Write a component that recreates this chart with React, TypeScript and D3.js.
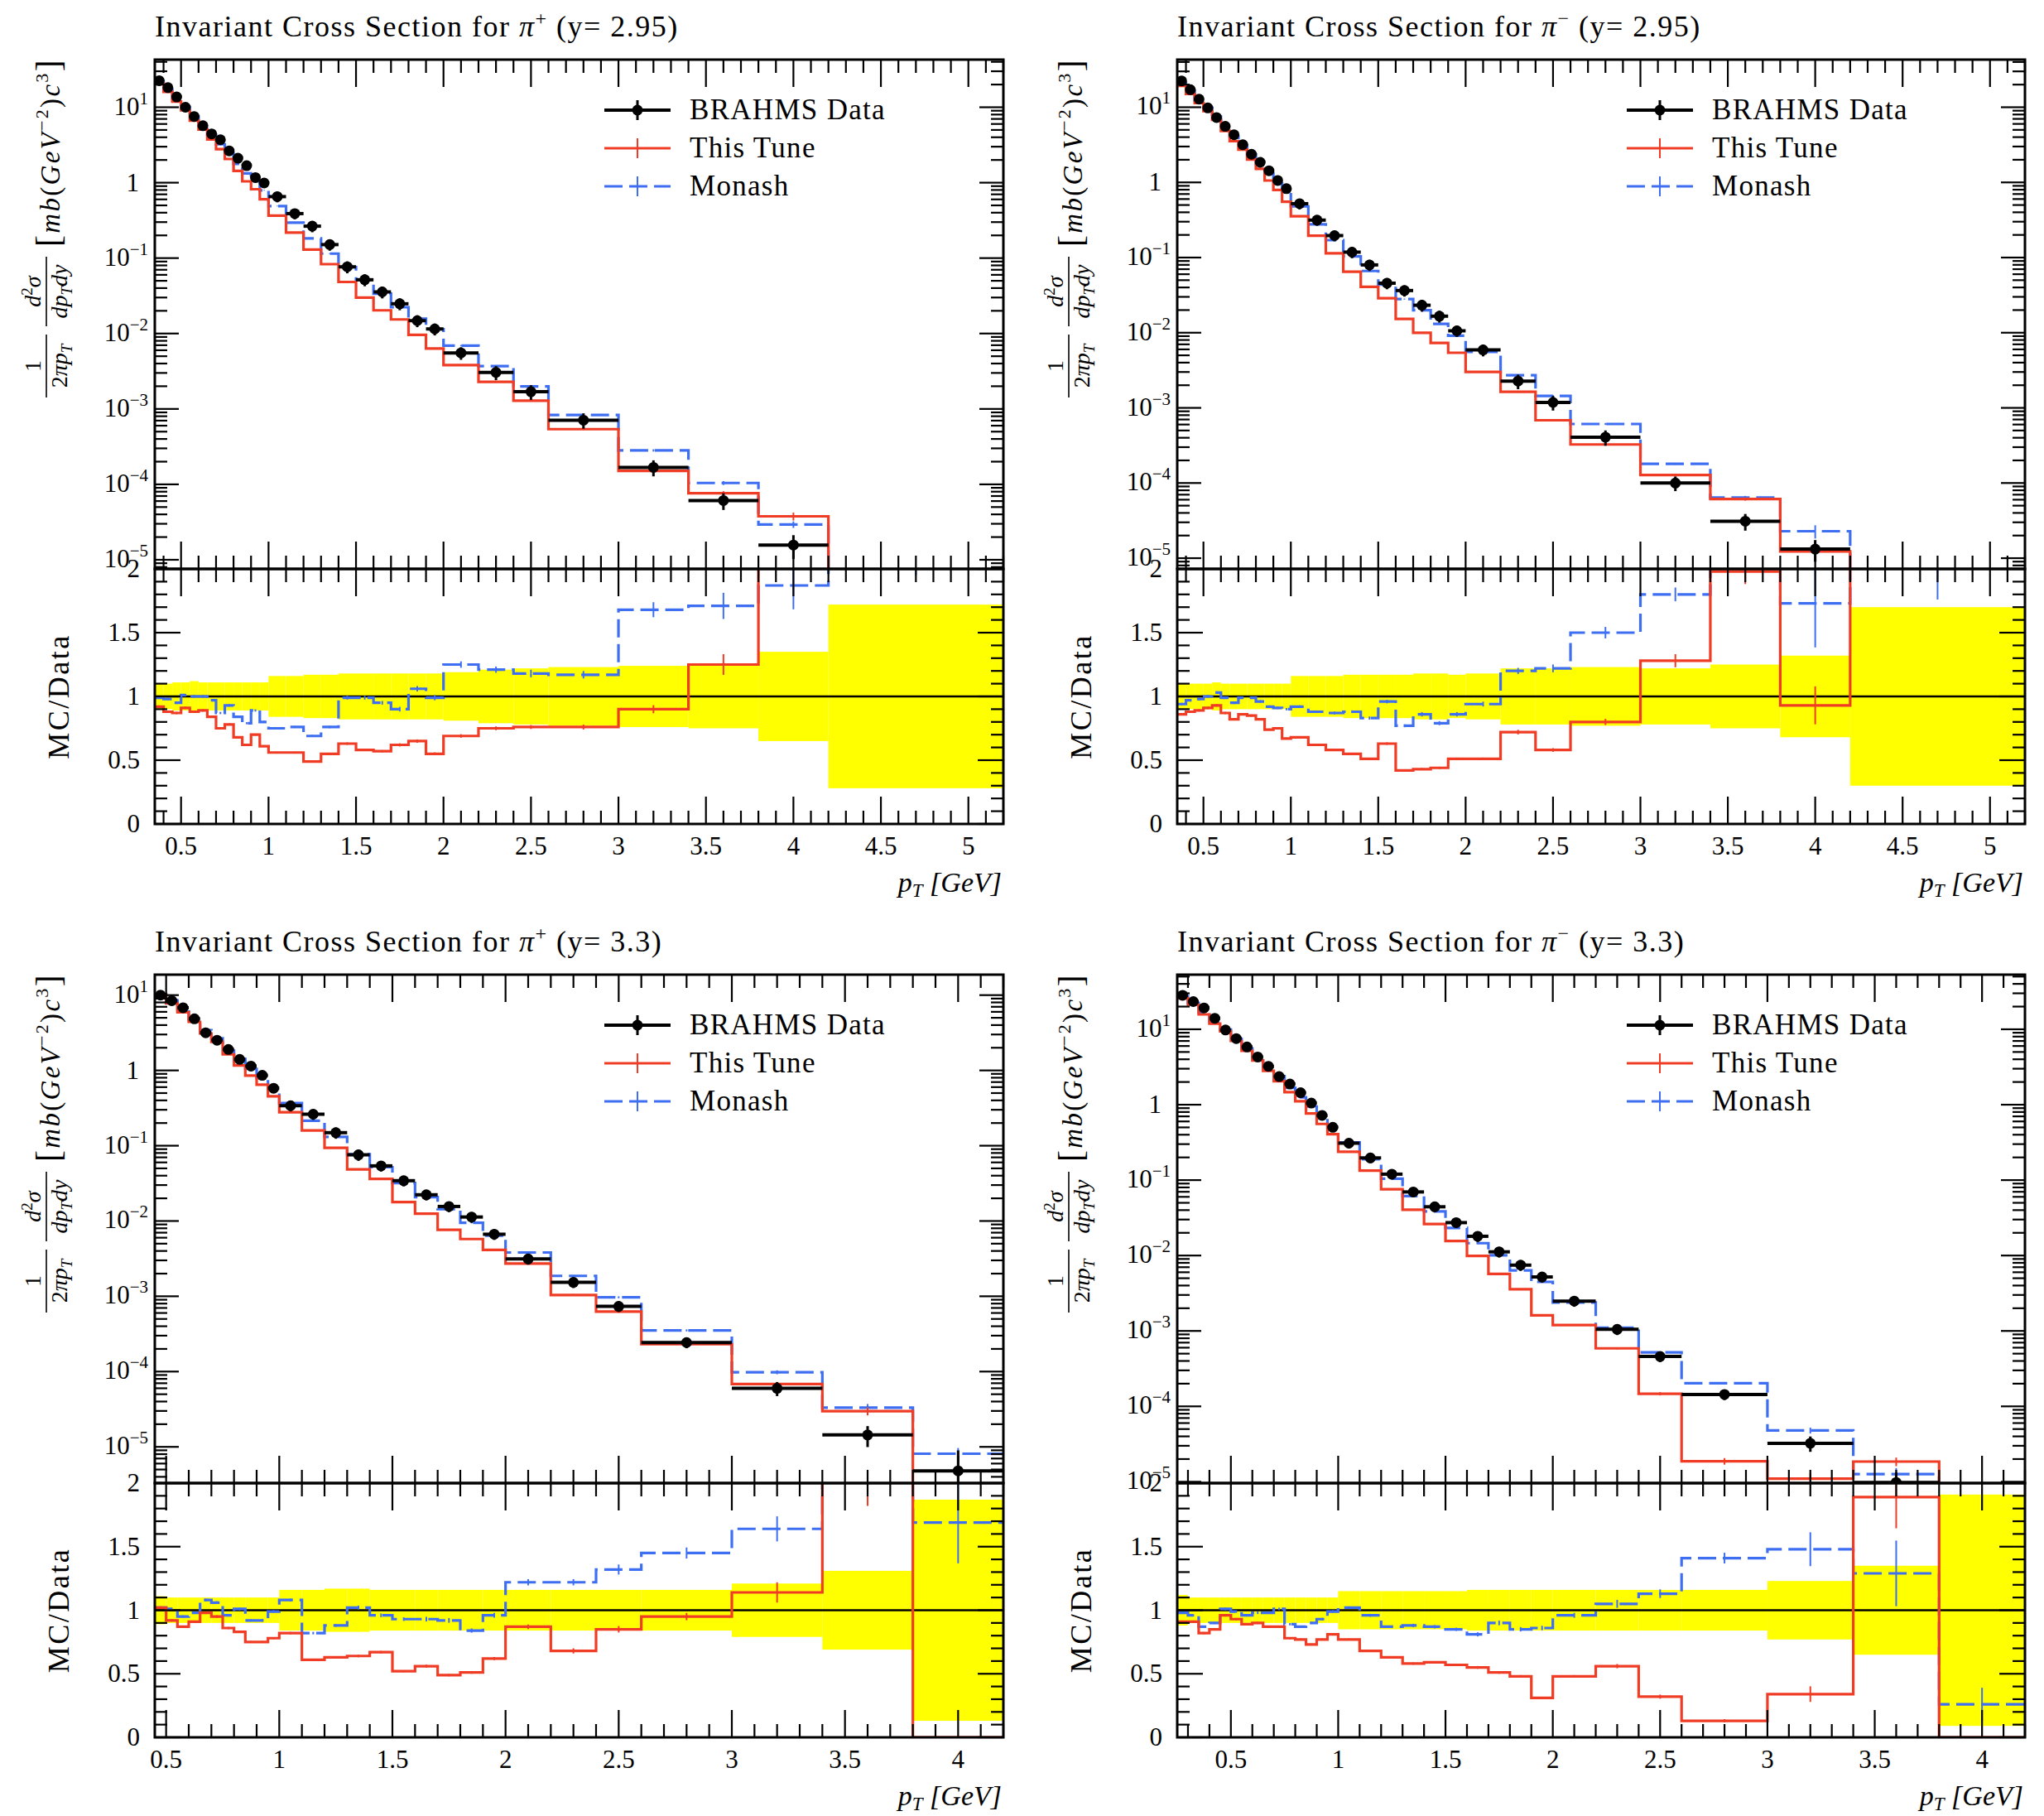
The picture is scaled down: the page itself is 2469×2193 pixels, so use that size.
import React, { useEffect, useRef } from 'react';
import * as d3 from 'd3';

const W = 2469;
const H = 2193;
const FONT = '"Liberation Serif", "Times New Roman", serif';
const RED = '#f03c24';
const BLUE = '#3e6ff2';
const YELLOW = '#ffff00';

// ---- bin edges (GeV) ----
const EDGES_Y295 = [0.35, 0.4, 0.45, 0.5, 0.55, 0.6, 0.65, 0.7, 0.75, 0.8, 0.85, 0.9, 0.95, 1.0,
  1.1, 1.2, 1.3, 1.4, 1.5, 1.6, 1.7, 1.8, 1.9, 2.0, 2.2, 2.4, 2.6, 3.0, 3.4, 3.8, 4.2, 5.2];
const EDGES_PIP_Y33 = [0.45, 0.5, 0.55, 0.6, 0.65, 0.7, 0.75, 0.8, 0.85, 0.9, 0.95, 1.0,
  1.1, 1.2, 1.3, 1.4, 1.5, 1.6, 1.7, 1.8, 1.9, 2.0, 2.2, 2.4, 2.6, 3.0, 3.4, 3.8, 4.2];
const EDGES_PIM_Y33 = [0.25, 0.3, 0.35, 0.4, 0.45, 0.5, 0.55, 0.6, 0.65, 0.7, 0.75, 0.8, 0.85, 0.9, 0.95, 1.0,
  1.1, 1.2, 1.3, 1.4, 1.5, 1.6, 1.7, 1.8, 1.9, 2.0, 2.2, 2.4, 2.6, 3.0, 3.4, 3.8, 4.2];

// ---- pi+ y=2.95 ----
const PIP295_DATA = [22.5, 18.2, 13.7, 10.0, 7.55, 5.69, 4.44, 3.71, 2.64, 2.11, 1.68, 1.17, 0.99,
  0.653, 0.389, 0.265, 0.151, 0.0766, 0.0516, 0.0356, 0.0248, 0.0148, 0.0115,
  0.00553, 0.00305, 0.00169, 7.1e-4, 1.68e-4, 6.1e-5, 1.57e-5, 2.0e-6];
const PIP295_DATA_ERR = [0.10, 0.10, 0.11, 0.11, 0.12, 0.11, 0.11, 0.11, 0.11, 0.11, 0.11, 0.11, 0.11,
  0.16, 0.16, 0.17, 0.17, 0.18, 0.18, 0.18, 0.18, 0.18, 0.18,
  0.19, 0.21, 0.22, 0.23, 0.24, 0.25, 0.35, 0.72];
const PIP295_TUNE = [0.92, 0.88, 0.87, 0.91, 0.88, 0.89, 0.84, 0.75, 0.78, 0.68, 0.62, 0.70, 0.61,
  0.56, 0.56, 0.49, 0.55, 0.63, 0.58, 0.57, 0.62, 0.65, 0.55,
  0.69, 0.75, 0.76, 0.76, 0.90, 1.25, 2.40, 3.0];
const PIP295_TUNE_ERR = [0.01, 0.01, 0.01, 0.01, 0.01, 0.01, 0.01, 0.01, 0.01, 0.01, 0.01, 0.01, 0.01,
  0.01, 0.01, 0.012, 0.012, 0.015, 0.015, 0.015, 0.02, 0.02, 0.02,
  0.02, 0.02, 0.02, 0.025, 0.035, 0.065, 0.12, 0.25];
const PIP295_MONASH = [0.99, 0.98, 0.95, 1.01, 1.00, 1.00, 0.97, 0.87, 0.93, 0.84, 0.79, 0.89, 0.80,
  0.75, 0.76, 0.69, 0.76, 0.99, 0.99, 0.95, 0.90, 1.06, 0.99,
  1.25, 1.21, 1.18, 1.17, 1.68, 1.71, 1.87, 2.6];
const PIP295_MONASH_ERR = [0.01, 0.01, 0.01, 0.01, 0.01, 0.01, 0.01, 0.01, 0.01, 0.01, 0.01, 0.01, 0.01,
  0.01, 0.01, 0.012, 0.012, 0.015, 0.015, 0.015, 0.02, 0.02, 0.02,
  0.02, 0.02, 0.025, 0.025, 0.035, 0.06, 0.10, 0.25];

// ---- pi- y=2.95 ----
const PIM295_DATA = [22.4, 17.1, 12.8, 9.78, 7.3, 5.57, 4.31, 3.18, 2.37, 1.85, 1.43, 1.06, 0.826,
  0.521, 0.315, 0.196, 0.118, 0.0798, 0.0456, 0.0364, 0.0232, 0.0166, 0.0106,
  0.0059, 0.00227, 0.00118, 4.07e-4, 1.0e-4, 3.1e-5, 1.32e-5, 2.0e-6];
const PIM295_DATA_ERR = [0.10, 0.10, 0.10, 0.10, 0.11, 0.10, 0.10, 0.10, 0.10, 0.10, 0.10, 0.10, 0.10,
  0.16, 0.16, 0.16, 0.17, 0.17, 0.17, 0.17, 0.18, 0.18, 0.17,
  0.18, 0.22, 0.22, 0.23, 0.22, 0.25, 0.32, 0.70];
const PIM295_TUNE = [0.86, 0.88, 0.89, 0.91, 0.93, 0.87, 0.82, 0.86, 0.85, 0.82, 0.74, 0.75, 0.67,
  0.68, 0.62, 0.58, 0.55, 0.51, 0.63, 0.42, 0.43, 0.44, 0.51,
  0.51, 0.72, 0.58, 0.80, 1.28, 1.98, 0.93, 3.0];
const PIM295_TUNE_ERR = [0.01, 0.01, 0.01, 0.01, 0.01, 0.01, 0.01, 0.01, 0.01, 0.01, 0.01, 0.01, 0.01,
  0.01, 0.01, 0.012, 0.012, 0.015, 0.015, 0.015, 0.02, 0.02, 0.02,
  0.02, 0.025, 0.025, 0.03, 0.04, 0.05, 0.16, 0.25];
const PIM295_MONASH = [0.94, 0.97, 0.98, 1.00, 1.03, 0.99, 0.95, 0.99, 0.99, 0.96, 0.92, 0.91, 0.90,
  0.92, 0.88, 0.87, 0.88, 0.83, 0.96, 0.77, 0.86, 0.79, 0.86,
  0.94, 1.20, 1.22, 1.50, 1.80, 2.07, 1.73, 2.2];
const PIM295_MONASH_ERR = [0.01, 0.01, 0.01, 0.01, 0.01, 0.01, 0.01, 0.01, 0.01, 0.01, 0.01, 0.01, 0.01,
  0.01, 0.01, 0.012, 0.012, 0.015, 0.015, 0.015, 0.02, 0.02, 0.02,
  0.02, 0.02, 0.025, 0.03, 0.03, 0.05, 0.2, 0.2];

// ---- pi+ y=3.3 ----
const PIP33_DATA = [10.0, 8.44, 6.81, 4.85, 3.16, 2.52, 1.90, 1.40, 1.14, 0.86, 0.58,
  0.34, 0.262, 0.149, 0.0757, 0.054, 0.0343, 0.0223, 0.0156, 0.0113, 0.00667,
  0.00313, 0.00153, 7.35e-4, 2.43e-4, 5.98e-5, 1.44e-5, 4.8e-6];
const PIP33_DATA_ERR = [0.11, 0.10, 0.10, 0.10, 0.10, 0.10, 0.10, 0.10, 0.10, 0.10, 0.10,
  0.16, 0.16, 0.17, 0.17, 0.16, 0.16, 0.16, 0.16, 0.16, 0.16,
  0.16, 0.16, 0.16, 0.16, 0.21, 0.31, 0.87];
const PIP33_TUNE = [1.02, 0.92, 0.87, 0.91, 0.98, 0.95, 0.86, 0.83, 0.75, 0.75, 0.78,
  0.82, 0.61, 0.63, 0.64, 0.67, 0.52, 0.56, 0.49, 0.51, 0.62,
  0.87, 0.68, 0.85, 0.95, 1.14, 2.07, 0];
const PIP33_TUNE_ERR = [0.01, 0.01, 0.01, 0.01, 0.01, 0.01, 0.01, 0.01, 0.01, 0.01, 0.01,
  0.01, 0.012, 0.012, 0.015, 0.015, 0.015, 0.02, 0.02, 0.02, 0.02,
  0.02, 0.03, 0.03, 0.03, 0.07, 0.12, 0];
const PIP33_MONASH = [1.02, 1.01, 0.95, 0.98, 1.08, 1.06, 0.96, 1.01, 0.92, 0.92, 0.99,
  1.08, 0.82, 0.88, 1.02, 0.96, 0.93, 0.93, 0.92, 0.84, 0.96,
  1.22, 1.22, 1.32, 1.45, 1.64, 2.3, 1.69];
const PIP33_MONASH_ERR = [0.01, 0.01, 0.01, 0.01, 0.01, 0.01, 0.01, 0.01, 0.01, 0.01, 0.01,
  0.01, 0.012, 0.012, 0.015, 0.015, 0.015, 0.02, 0.02, 0.02, 0.02,
  0.02, 0.02, 0.03, 0.03, 0.06, 0.12, 0.19];

// ---- pi- y=3.3 ----
const PIM33_DATA = [28.2, 23.3, 19.2, 14.0, 9.78, 7.54, 5.82, 4.29, 3.23, 2.36, 1.88, 1.44, 1.05, 0.722, 0.502,
  0.309, 0.197, 0.120, 0.0697, 0.0443, 0.0273, 0.0180, 0.0112, 0.00746, 0.0052,
  0.00249, 0.00105, 4.59e-4, 1.44e-4, 3.24e-5, 9.8e-6, 4.0e-6];
const PIM33_DATA_ERR = [0.12, 0.10, 0.10, 0.10, 0.10, 0.10, 0.10, 0.10, 0.10, 0.10, 0.10, 0.10, 0.10, 0.10, 0.10,
  0.15, 0.15, 0.15, 0.15, 0.15, 0.15, 0.16, 0.16, 0.16, 0.16,
  0.16, 0.16, 0.16, 0.16, 0.23, 0.35, 0.91];
const PIM33_TUNE = [0.91, 0.91, 0.82, 0.85, 0.96, 0.93, 0.89, 0.90, 0.87, 0.87, 0.78, 0.77, 0.73, 0.77, 0.81,
  0.77, 0.68, 0.63, 0.58, 0.59, 0.57, 0.55, 0.51, 0.48, 0.31,
  0.48, 0.56, 0.32, 0.13, 0.34, 1.89, 0];
const PIM33_TUNE_ERR = [0.01, 0.01, 0.01, 0.01, 0.01, 0.01, 0.01, 0.01, 0.01, 0.01, 0.01, 0.01, 0.01, 0.01, 0.01,
  0.01, 0.012, 0.012, 0.015, 0.015, 0.015, 0.02, 0.02, 0.02, 0.02,
  0.02, 0.03, 0.05, 0.1, 0.18, 0.13, 0];
const PIM33_MONASH = [0.98, 0.96, 0.87, 0.90, 1.01, 0.99, 0.96, 0.98, 0.98, 1.01, 0.89, 0.87, 0.90, 0.93, 0.99,
  1.02, 0.96, 0.87, 0.88, 0.87, 0.85, 0.81, 0.90, 0.85, 0.86,
  0.96, 1.05, 1.13, 1.41, 1.48, 1.29, 0.26];
const PIM33_MONASH_ERR = [0.01, 0.01, 0.01, 0.01, 0.01, 0.01, 0.01, 0.01, 0.01, 0.01, 0.01, 0.01, 0.01, 0.01, 0.01,
  0.01, 0.012, 0.012, 0.015, 0.015, 0.015, 0.02, 0.02, 0.02, 0.02,
  0.02, 0.03, 0.03, 0.03, 0.09, 0.2, 0.5];

const LEGEND = [
  { label: 'BRAHMS Data', color: '#000', dash: null as string | null, marker: true },
  { label: 'This Tune', color: RED, dash: null as string | null, marker: false },
  { label: 'Monash', color: BLUE, dash: '22 8', marker: false },
];

const PANELS = [
  {
    sign: '+', rapidity: '2.95', edges: EDGES_Y295,
    data: PIP295_DATA, dataErr: PIP295_DATA_ERR,
    tune: PIP295_TUNE, tuneErr: PIP295_TUNE_ERR, monash: PIP295_MONASH, monashErr: PIP295_MONASH_ERR,
    xDomain: [0.35, 5.2], yDomain: [7.57e-6, 42.8],
    box: { L: 187, R: 1212, T: 72, S: 687, B: 995 },
  },
  {
    sign: '\u2212', rapidity: '2.95', edges: EDGES_Y295,
    data: PIM295_DATA, dataErr: PIM295_DATA_ERR,
    tune: PIM295_TUNE, tuneErr: PIM295_TUNE_ERR, monash: PIM295_MONASH, monashErr: PIM295_MONASH_ERR,
    xDomain: [0.35, 5.2], yDomain: [7.2e-6, 43],
    box: { L: 1422, R: 2446, T: 72, S: 687, B: 995 },
  },
  {
    sign: '+', rapidity: '3.3', edges: EDGES_PIP_Y33,
    data: PIP33_DATA, dataErr: PIP33_DATA_ERR,
    tune: PIP33_TUNE, tuneErr: PIP33_TUNE_ERR, monash: PIP33_MONASH, monashErr: PIP33_MONASH_ERR,
    xDomain: [0.45, 4.2], yDomain: [3.3e-6, 18.7],
    box: { L: 187, R: 1212, T: 1177, S: 1791, B: 2098 },
  },
  {
    sign: '\u2212', rapidity: '3.3', edges: EDGES_PIM_Y33,
    data: PIM33_DATA, dataErr: PIM33_DATA_ERR,
    tune: PIM33_TUNE, tuneErr: PIM33_TUNE_ERR, monash: PIM33_MONASH, monashErr: PIM33_MONASH_ERR,
    xDomain: [0.25, 4.2], yDomain: [9.6e-6, 53],
    box: { L: 1422, R: 2446, T: 1177, S: 1791, B: 2098 },
  },
];

type Panel = typeof PANELS[number];

function drawPanel(svg: d3.Selection<SVGSVGElement, unknown, null, undefined>, p: Panel, idx: number) {
  const { L, R, T, S, B } = p.box;
  const n = p.data.length;
  const x = d3.scaleLinear().domain(p.xDomain).range([L, R]);
  const y = d3.scaleLog().domain(p.yDomain).range([S, T]);
  const yr = d3.scaleLinear().domain([0, 2]).range([B, S]);
  const mid = d3.range(n).map(i => (p.edges[i] + p.edges[i + 1]) / 2);

  // zero / tiny values fall below the frame and get clipped
  const ym = (v: number) => (v > 0 ? Math.min(y(v), S + 400) : S + 400);
  const yrc = (v: number) => yr(Math.max(-1, Math.min(v, 4)));

  const defs = svg.append('defs');
  defs.append('clipPath').attr('id', `clip-main-${idx}`)
    .append('rect').attr('x', L).attr('y', T).attr('width', R - L).attr('height', S - T);
  defs.append('clipPath').attr('id', `clip-ratio-${idx}`)
    .append('rect').attr('x', L).attr('y', S).attr('width', R - L).attr('height', B - S);

  const steps = (vals: number[]) =>
    vals.map((v, i) => [p.edges[i], v] as [number, number]).concat([[p.edges[n], vals[n - 1]]]);
  const mainStep = d3.line<[number, number]>().x(d => x(d[0])).y(d => ym(d[1])).curve(d3.curveStepAfter);
  const ratioStep = d3.line<[number, number]>().x(d => x(d[0])).y(d => yrc(d[1])).curve(d3.curveStepAfter);

  const series = [
    { ratio: p.monash, err: p.monashErr, color: BLUE, dash: '22 8' },
    { ratio: p.tune, err: p.tuneErr, color: RED, dash: null as string | null },
  ];

  // ---------- main plot ----------
  const gm = svg.append('g').attr('clip-path', `url(#clip-main-${idx})`);
  series.forEach(s => {
    const vals = s.ratio.map((r, i) => r * p.data[i]);
    gm.append('path')
      .attr('d', mainStep(steps(vals)))
      .attr('fill', 'none')
      .attr('stroke', s.color)
      .attr('stroke-width', 3.2)
      .attr('stroke-dasharray', s.dash);
    vals.forEach((v, i) => {
      if (v <= 0) return;
      gm.append('line')
        .attr('x1', x(mid[i])).attr('x2', x(mid[i]))
        .attr('y1', ym(v * (1 - s.err[i]))).attr('y2', ym(v * (1 + s.err[i])))
        .attr('stroke', s.color).attr('stroke-width', 2);
    });
  });

  p.data.forEach((v, i) => {
    const cy = ym(v);
    gm.append('line')
      .attr('x1', x(p.edges[i])).attr('x2', x(p.edges[i + 1]))
      .attr('y1', cy).attr('y2', cy)
      .attr('stroke', '#000').attr('stroke-width', 4);
    gm.append('line')
      .attr('x1', x(mid[i])).attr('x2', x(mid[i]))
      .attr('y1', ym(v * (1 - p.dataErr[i]))).attr('y2', ym(v * (1 + p.dataErr[i])))
      .attr('stroke', '#000').attr('stroke-width', 3);
    gm.append('circle').attr('cx', x(mid[i])).attr('cy', cy).attr('r', 6.5).attr('fill', '#000');
  });

  // ---------- ratio plot ----------
  const gr = svg.append('g').attr('clip-path', `url(#clip-ratio-${idx})`);
  p.dataErr.forEach((e, i) => {
    gr.append('rect')
      .attr('x', x(p.edges[i]))
      .attr('width', x(p.edges[i + 1]) - x(p.edges[i]))
      .attr('y', yr(1 + e))
      .attr('height', yr(1 - e) - yr(1 + e))
      .attr('fill', YELLOW);
  });
  gr.append('line').attr('x1', L).attr('x2', R).attr('y1', yr(1)).attr('y2', yr(1))
    .attr('stroke', '#000').attr('stroke-width', 2.5);
  series.forEach(s => {
    gr.append('path')
      .attr('d', ratioStep(steps(s.ratio)))
      .attr('fill', 'none')
      .attr('stroke', s.color)
      .attr('stroke-width', 3.2)
      .attr('stroke-dasharray', s.dash);
    s.ratio.forEach((r, i) => {
      if (r <= 0) return;
      gr.append('line')
        .attr('x1', x(mid[i])).attr('x2', x(mid[i]))
        .attr('y1', yrc(r * (1 - s.err[i]))).attr('y2', yrc(r * (1 + s.err[i])))
        .attr('stroke', s.color).attr('stroke-width', 2);
    });
  });

  // ---------- frames ----------
  [[T, S], [S, B]].forEach(([a, b]) => {
    svg.append('rect').attr('x', L).attr('y', a).attr('width', R - L).attr('height', b - a)
      .attr('fill', 'none').attr('stroke', '#000').attr('stroke-width', 3);
  });

  // ---------- ticks ----------
  const tk = svg.append('g').attr('stroke', '#000').attr('stroke-width', 2.2);
  const xt = d3.range(Math.ceil(p.xDomain[0] * 10 - 1e-6), Math.floor(p.xDomain[1] * 10 + 1e-6) + 1);
  xt.forEach(k => {
    const px = x(k / 10);
    const major = k % 5 === 0;
    const len = major ? 33 : 16;
    tk.append('line').attr('x1', px).attr('x2', px).attr('y1', T).attr('y2', T + len);
    tk.append('line').attr('x1', px).attr('x2', px).attr('y1', S).attr('y2', S - len);
    tk.append('line').attr('x1', px).attr('x2', px).attr('y1', S).attr('y2', S + len);
    tk.append('line').attr('x1', px).attr('x2', px).attr('y1', B).attr('y2', B - len);
  });

  const lo = Math.floor(Math.log10(p.yDomain[0]));
  const hi = Math.ceil(Math.log10(p.yDomain[1]));
  for (let k = lo; k <= hi; k++) {
    for (let m = 1; m <= 9; m++) {
      const v = m * Math.pow(10, k);
      if (v < p.yDomain[0] || v > p.yDomain[1]) continue;
      const py = y(v);
      const len = m === 1 ? 29 : 15;
      tk.append('line').attr('x1', L).attr('x2', L + len).attr('y1', py).attr('y2', py);
      tk.append('line').attr('x1', R).attr('x2', R - len).attr('y1', py).attr('y2', py);
    }
  }
  d3.range(0, 21).forEach(k => {
    const py = yr(k / 10);
    const len = k % 5 === 0 ? 31 : 15;
    tk.append('line').attr('x1', L).attr('x2', L + len).attr('y1', py).attr('y2', py);
    tk.append('line').attr('x1', R).attr('x2', R - len).attr('y1', py).attr('y2', py);
  });

  // ---------- tick labels ----------
  const lab = svg.append('g').attr('font-family', FONT).attr('fill', '#000');
  for (let k = lo; k <= hi; k++) {
    const v = Math.pow(10, k);
    if (v < p.yDomain[0] * 0.999 || v > p.yDomain[1]) continue;
    const py = y(v);
    if (k === 0) {
      lab.append('text').attr('x', L - 19).attr('y', py + 10).attr('text-anchor', 'end')
        .attr('font-size', 31).text('1');
    } else {
      const t = lab.append('text').attr('x', L - 8).attr('y', py + 9).attr('text-anchor', 'end')
        .attr('font-size', 31);
      t.append('tspan').text('10');
      t.append('tspan').attr('dy', -13).attr('font-size', 21).text(k < 0 ? `\u2212${-k}` : `${k}`);
    }
  }
  [0, 0.5, 1, 1.5, 2].forEach(v => {
    lab.append('text').attr('x', L - 18).attr('y', yr(v) + 10).attr('text-anchor', 'end')
      .attr('font-size', 31).text(Number.isInteger(v) ? String(v) : v.toFixed(1));
  });
  d3.range(Math.ceil(p.xDomain[0] * 2), Math.floor(p.xDomain[1] * 2 + 1e-6) + 1).forEach(k => {
    const v = k / 2;
    lab.append('text').attr('x', x(v)).attr('y', B + 37).attr('text-anchor', 'middle')
      .attr('font-size', 31).text(Number.isInteger(v) ? String(v) : v.toFixed(1));
  });

  // x title
  const xl = lab.append('text').attr('x', R - 2).attr('y', B + 82).attr('text-anchor', 'end')
    .attr('font-size', 34).attr('font-style', 'italic');
  xl.append('tspan').text('p');
  xl.append('tspan').attr('dy', 6).attr('font-size', 23).text('T');
  xl.append('tspan').attr('dy', -6).text(' [GeV]');

  // title
  const title = lab.append('text').attr('x', L).attr('y', T - 28).attr('font-size', 36)
    .attr('letter-spacing', 1.5);
  title.append('tspan').text('Invariant Cross Section for ');
  title.append('tspan').attr('font-style', 'italic').text('\u03c0');
  title.append('tspan').attr('dy', -14).attr('font-size', 24).text(p.sign);
  title.append('tspan').attr('dy', 14).text(` (y= ${p.rapidity})`);

  // legend
  LEGEND.forEach((e, i) => {
    const base = T + 72 + i * 46;
    const ly = base - 11;
    const cx = L + 583;
    lab.append('line').attr('x1', L + 543).attr('x2', L + 623).attr('y1', ly).attr('y2', ly)
      .attr('stroke', e.color).attr('stroke-width', e.marker ? 4 : 3.2)
      .attr('stroke-dasharray', e.dash);
    lab.append('line').attr('x1', cx).attr('x2', cx).attr('y1', ly - 12).attr('y2', ly + 12)
      .attr('stroke', e.color).attr('stroke-width', e.marker ? 3 : 2);
    if (e.marker) lab.append('circle').attr('cx', cx).attr('cy', ly).attr('r', 6.5).attr('fill', '#000');
    lab.append('text').attr('x', L + 646).attr('y', base).attr('font-size', 35)
      .attr('letter-spacing', 1.3).text(e.label);
  });

  // main y label (rotated LaTeX-like expression)
  const yl = lab.append('g').attr('transform', `translate(${L - 131},${T + 410}) rotate(-90)`);
  yl.append('text').attr('x', 40).attr('y', -7).attr('text-anchor', 'middle').attr('font-size', 28).text('1');
  yl.append('line').attr('x1', 2).attr('x2', 78).attr('y1', 0).attr('y2', 0)
    .attr('stroke', '#000').attr('stroke-width', 1.6);
  const d1 = yl.append('text').attr('x', 40).attr('y', 25).attr('text-anchor', 'middle').attr('font-size', 28);
  d1.append('tspan').text('2');
  d1.append('tspan').attr('font-style', 'italic').text('\u03c0p');
  d1.append('tspan').attr('font-style', 'italic').attr('font-size', 19).attr('dy', 6).text('T');

  const n2 = yl.append('text').attr('x', 130).attr('y', -7).attr('text-anchor', 'middle')
    .attr('font-size', 28).attr('font-style', 'italic');
  n2.append('tspan').text('d');
  n2.append('tspan').attr('dy', -10).attr('font-size', 19).attr('font-style', 'normal').text('2');
  n2.append('tspan').attr('dy', 10).text('\u03c3');
  yl.append('line').attr('x1', 88).attr('x2', 172).attr('y1', 0).attr('y2', 0)
    .attr('stroke', '#000').attr('stroke-width', 1.6);
  const d2 = yl.append('text').attr('x', 130).attr('y', 25).attr('text-anchor', 'middle')
    .attr('font-size', 28).attr('font-style', 'italic');
  d2.append('tspan').text('dp');
  d2.append('tspan').attr('dy', 6).attr('font-size', 19).text('T');
  d2.append('tspan').attr('dy', -6).text('dy');

  const br = yl.append('text').attr('x', 184).attr('y', 16).attr('font-size', 33).attr('letter-spacing', 2.3);
  br.append('tspan').attr('font-size', 42).text('[');
  br.append('tspan').attr('font-style', 'italic').text('mb');
  br.append('tspan').text('(');
  br.append('tspan').attr('font-style', 'italic').text('GeV');
  br.append('tspan').attr('dy', -14).attr('font-size', 22).text('\u22122');
  br.append('tspan').attr('dy', 14).text(')');
  br.append('tspan').attr('font-style', 'italic').text('c');
  br.append('tspan').attr('dy', -14).attr('font-size', 22).text('3');
  br.append('tspan').attr('dy', 14).attr('font-size', 42).text(']');

  // ratio y label
  lab.append('text')
    .attr('transform', `translate(${L - 104},${(S + B) / 2}) rotate(-90)`)
    .attr('text-anchor', 'middle').attr('font-size', 36).attr('letter-spacing', 2.5)
    .text('MC/Data');
}

export default function App() {
  const ref = useRef<SVGSVGElement>(null);

  useEffect(() => {
    if (!ref.current) return;
    const svg = d3.select(ref.current);
    svg.selectAll('*').remove();
    PANELS.forEach((p, i) => drawPanel(svg, p, i));
  }, []);

  return (
    <svg
      ref={ref}
      width={W}
      height={H}
      style={{ position: 'absolute', left: 0, top: 0, background: '#fff', fontFamily: FONT }}
    />
  );
}
